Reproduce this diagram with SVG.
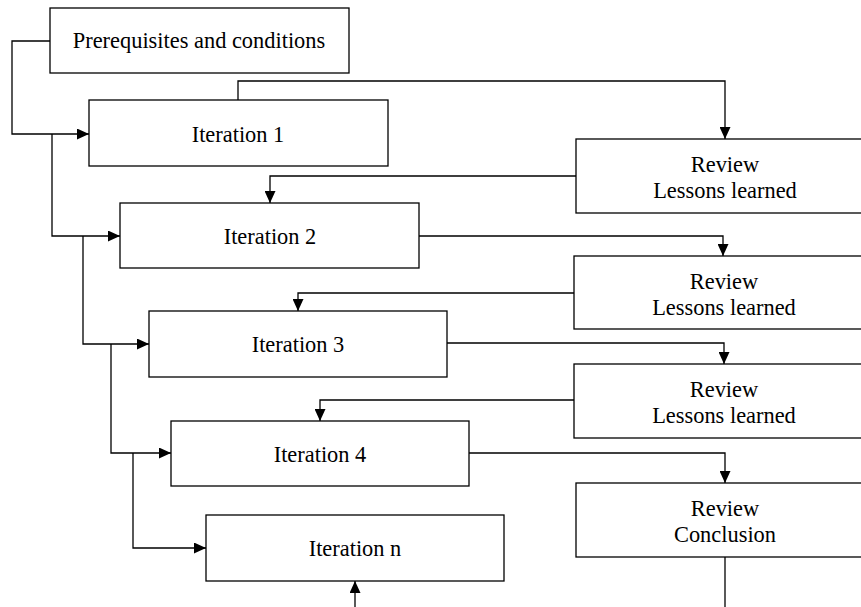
<svg xmlns="http://www.w3.org/2000/svg" width="861" height="607" viewBox="0 0 861 607">
<style>
.box{fill:#fff;stroke:#000;stroke-width:1.3}
.t{font-family:"Liberation Serif","Times New Roman",serif;font-size:22.4px;fill:#000;text-anchor:middle}
.c{fill:none;stroke:#000;stroke-width:1.3}
</style>
<defs>
<marker id="ah" markerUnits="userSpaceOnUse" markerWidth="12" markerHeight="11" refX="12" refY="5.5" orient="auto">
<path d="M0,0 L12,5.5 L0,11 Z" fill="#000"/>
</marker>
</defs>
<rect width="861" height="607" fill="#fff"/>
<g id="connectors">
<path class="c" d="M50,41 H12 V134 H89" marker-end="url(#ah)"/>
<path class="c" d="M52,134 V236 H120" marker-end="url(#ah)"/>
<path class="c" d="M83,236 V344 H149" marker-end="url(#ah)"/>
<path class="c" d="M111,344 V453 H171" marker-end="url(#ah)"/>
<path class="c" d="M133,453 V548 H206" marker-end="url(#ah)"/>
<path class="c" d="M238,100 V81 H725 V139" marker-end="url(#ah)"/>
<path class="c" d="M576,176 H270 V203" marker-end="url(#ah)"/>
<path class="c" d="M419,236 H723 V256" marker-end="url(#ah)"/>
<path class="c" d="M574,293 H298 V311" marker-end="url(#ah)"/>
<path class="c" d="M447,343 H724 V364" marker-end="url(#ah)"/>
<path class="c" d="M574,400 H320 V421" marker-end="url(#ah)"/>
<path class="c" d="M469,453 H725 V483" marker-end="url(#ah)"/>
<path class="c" d="M725,557 V607"/>
<path class="c" d="M355,607 V581" marker-end="url(#ah)"/>
</g>
<g id="prereq"><rect class="box" x="50" y="8" width="299" height="65"/><text class="t" x="199" y="48">Prerequisites and conditions</text></g>
<g id="iter1"><rect class="box" x="89" y="100" width="299" height="66"/><text class="t" x="238" y="142">Iteration 1</text></g>
<g id="iter2"><rect class="box" x="120" y="203" width="299" height="65"/><text class="t" x="270" y="244">Iteration 2</text></g>
<g id="iter3"><rect class="box" x="149" y="311" width="298" height="66"/><text class="t" x="298" y="352">Iteration 3</text></g>
<g id="iter4"><rect class="box" x="171" y="421" width="298" height="65"/><text class="t" x="320" y="462">Iteration 4</text></g>
<g id="itern"><rect class="box" x="206" y="515" width="298" height="66"/><text class="t" x="355" y="556">Iteration n</text></g>
<g id="review1"><rect class="box" x="576" y="139" width="298" height="74"/><text class="t" x="725" y="172">Review</text><text class="t" x="725" y="198">Lessons learned</text></g>
<g id="review2"><rect class="box" x="574" y="256" width="298" height="73"/><text class="t" x="724" y="289">Review</text><text class="t" x="724" y="315">Lessons learned</text></g>
<g id="review3"><rect class="box" x="574" y="364" width="298" height="74"/><text class="t" x="724" y="397">Review</text><text class="t" x="724" y="423">Lessons learned</text></g>
<g id="review4"><rect class="box" x="576" y="483" width="298" height="74"/><text class="t" x="725" y="516">Review</text><text class="t" x="725" y="542">Conclusion</text></g>
</svg>
